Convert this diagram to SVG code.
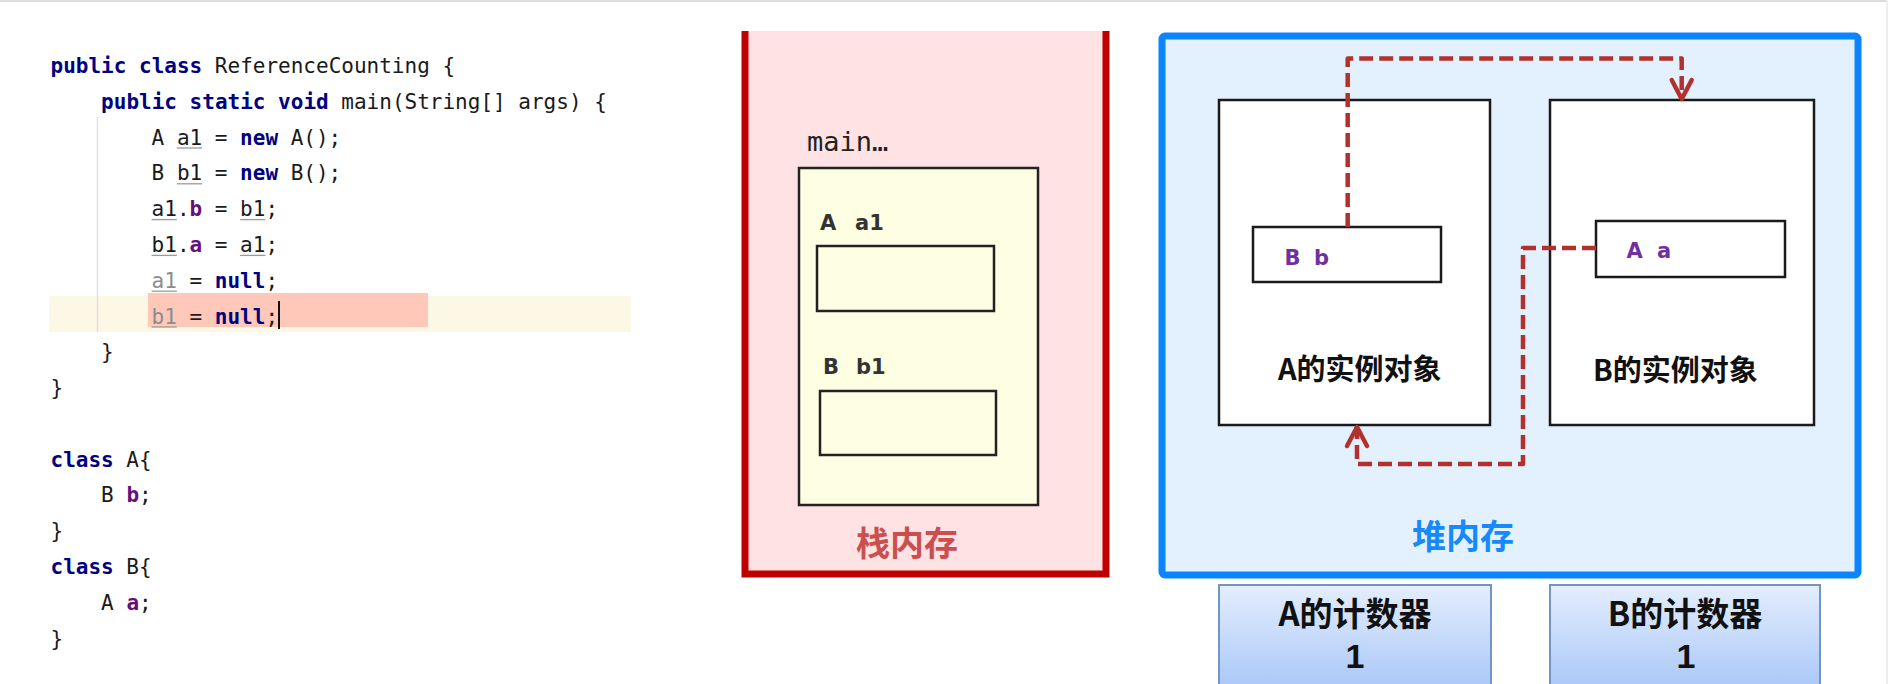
<svg xmlns="http://www.w3.org/2000/svg" width="1888" height="684" viewBox="0 0 1888 684">
<style>
.code{font-family:"DejaVu Sans Mono","Liberation Mono",monospace;font-size:21px;fill:#1a1a1a}
.kw{fill:#000080;font-weight:bold}
.fld{fill:#660E7A;font-weight:bold}
.gry{fill:#8c8c8c}
.ul{stroke:#9a9a9a;stroke-width:1.3}
.box{fill:#ffffff;stroke:#1a1a1a;stroke-width:2.5}
.ybox{fill:#FEFEE3;stroke:#222222;stroke-width:2.5}
.lbl{font-family:"DejaVu Sans","Liberation Sans",sans-serif;font-weight:bold;font-size:21px;fill:#333333}
.plbl{font-family:"DejaVu Sans","Liberation Sans",sans-serif;font-weight:bold;font-size:21px;fill:#7030A0}
.cjk{font-family:"Noto Sans CJK SC","Noto Sans",sans-serif;font-weight:bold}
.num{font-family:"Liberation Sans","Noto Sans",sans-serif;font-weight:bold;font-size:34px;fill:#111;text-anchor:middle}
.conn{fill:none;stroke:#B3312D;stroke-width:4.5;stroke-dasharray:14 6;stroke-linejoin:round}
.cnt{stroke:#7394C6;stroke-width:2;fill:url(#cg)}
</style>
<defs>
<linearGradient id="cg" x1="0" y1="0" x2="0" y2="1">
<stop offset="0" stop-color="#E4EEFE"/>
<stop offset="1" stop-color="#A6C5F7"/>
</linearGradient>
<marker id="arr" markerUnits="userSpaceOnUse" viewBox="-26 -15 30 30" refX="0" refY="0" markerWidth="30" markerHeight="30" orient="auto">
<path d="M-19,-10 L0,0 L-19,10" fill="none" stroke="#B3312D" stroke-width="4.5" stroke-linejoin="round" stroke-linecap="round"/>
</marker>
</defs>
<rect x="0" y="0" width="1888" height="684" fill="#ffffff"/>
<rect x="0" y="0" width="1888" height="2" fill="#dddddd"/>
<rect x="1886" y="0" width="2" height="684" fill="#eeeeee"/>

<g id="code">
<rect x="49" y="296" width="582" height="36" fill="#FDF8E6"/>
<rect x="148" y="293" width="280" height="34" fill="#FFC8B8"/>
<line x1="97.5" y1="117" x2="97.5" y2="332" stroke="#e0e0e0" stroke-width="1.5"/>
<text class="code" x="50.5" y="72.7"><tspan class="kw">public class</tspan> ReferenceCounting {</text>
<text class="code" x="101.1" y="108.5"><tspan class="kw">public static void</tspan> main(String[] args) {</text>
<text class="code" x="151.6" y="144.5">A a1 = <tspan class="kw">new</tspan> A();</text>
<text class="code" x="151.6" y="180.3">B b1 = <tspan class="kw">new</tspan> B();</text>
<text class="code" x="151.6" y="216.1">a1.<tspan class="fld">b</tspan> = b1;</text>
<text class="code" x="151.6" y="251.9">b1.<tspan class="fld">a</tspan> = a1;</text>
<text class="code" x="151.6" y="287.7"><tspan class="gry">a1</tspan> = <tspan class="kw">null</tspan>;</text>
<text class="code" x="151.6" y="323.5"><tspan class="gry">b1</tspan> = <tspan class="kw">null</tspan>;</text>
<line x1="279" y1="301" x2="279" y2="329" stroke="#111" stroke-width="2"/>
<line class="ul" x1="176.9" y1="148" x2="202.2" y2="148"/>
<line class="ul" x1="176.9" y1="183.8" x2="202.2" y2="183.8"/>
<line class="ul" x1="151.6" y1="219.6" x2="176.9" y2="219.6"/>
<line class="ul" x1="240.1" y1="219.6" x2="265.4" y2="219.6"/>
<line class="ul" x1="151.6" y1="255.4" x2="176.9" y2="255.4"/>
<line class="ul" x1="240.1" y1="255.4" x2="265.4" y2="255.4"/>
<line class="ul" x1="151.6" y1="291.2" x2="176.9" y2="291.2"/>
<line class="ul" x1="151.6" y1="327" x2="176.9" y2="327"/>
<text class="code" x="101.1" y="359">}</text>
<text class="code" x="50.5" y="395">}</text>
<text class="code" x="50.5" y="466.5"><tspan class="kw">class</tspan> A{</text>
<text class="code" x="101.1" y="502.3">B <tspan class="fld">b</tspan>;</text>
<text class="code" x="50.5" y="538.1">}</text>
<text class="code" x="50.5" y="573.9"><tspan class="kw">class</tspan> B{</text>
<text class="code" x="101.1" y="609.7">A <tspan class="fld">a</tspan>;</text>
<text class="code" x="50.5" y="645.5">}</text>
</g>

<g id="stack">
<rect x="745" y="31" width="361" height="543" fill="#FFE2E4"/>
<path d="M745,31 V574 H1106 V31" fill="none" stroke="#C00000" stroke-width="7"/>
<text x="807" y="150.7" font-family="DejaVu Sans Mono, monospace" font-size="27" fill="#222">main…</text>
<rect class="ybox" x="799" y="168" width="239" height="337"/>
<text class="lbl" y="230"><tspan x="820">A</tspan><tspan x="855">a1</tspan></text>
<rect class="ybox" x="817" y="246" width="177" height="65"/>
<text class="lbl" y="374"><tspan x="823">B</tspan><tspan x="856">b1</tspan></text>
<rect class="ybox" x="820" y="391" width="176" height="64"/>
<text class="cjk" x="856" y="556" font-size="34" fill="#C9504E">栈内存</text>
</g>

<g id="heap">
<rect x="1162" y="36" width="696" height="539" rx="3" fill="#E3F1FE" stroke="#0A84FF" stroke-width="7"/>
<text class="cjk" x="1412" y="549" font-size="34" fill="#1789FA">堆内存</text>
</g>

<g id="objA">
<rect class="box" x="1219" y="100" width="271" height="325"/>
<rect class="box" x="1253" y="227" width="188" height="55"/>
<text class="plbl" y="265"><tspan x="1284.6">B</tspan><tspan x="1314">b</tspan></text>
<text class="cjk" x="1278" y="380" font-size="29" fill="#111">A的实例对象</text>
</g>

<g id="objB">
<rect class="box" x="1550" y="100" width="264" height="325"/>
<rect class="box" x="1596" y="221" width="189" height="56"/>
<text class="plbl" y="258.3"><tspan x="1626.6">A</tspan><tspan x="1657">a</tspan></text>
<text class="cjk" x="1593" y="381" font-size="29" fill="#111">B的实例对象</text>
</g>

<g id="counterA">
<rect class="cnt" x="1219" y="585" width="272" height="110"/>
<text class="cjk" x="1355" y="626" font-size="33" fill="#111" text-anchor="middle">A的计数器</text>
<text class="num" x="1355" y="668">1</text>
</g>

<g id="counterB">
<rect class="cnt" x="1550" y="585" width="270" height="110"/>
<text class="cjk" x="1685" y="626" font-size="33" fill="#111" text-anchor="middle">B的计数器</text>
<text class="num" x="1686" y="668">1</text>
</g>

<g id="connectors">
<path class="conn" d="M1347.7,227 V58.5 H1681.7 V99" marker-end="url(#arr)"/>
<path class="conn" d="M1596,248 H1523 V464 H1357 V427" marker-end="url(#arr)"/>
</g>
</svg>
